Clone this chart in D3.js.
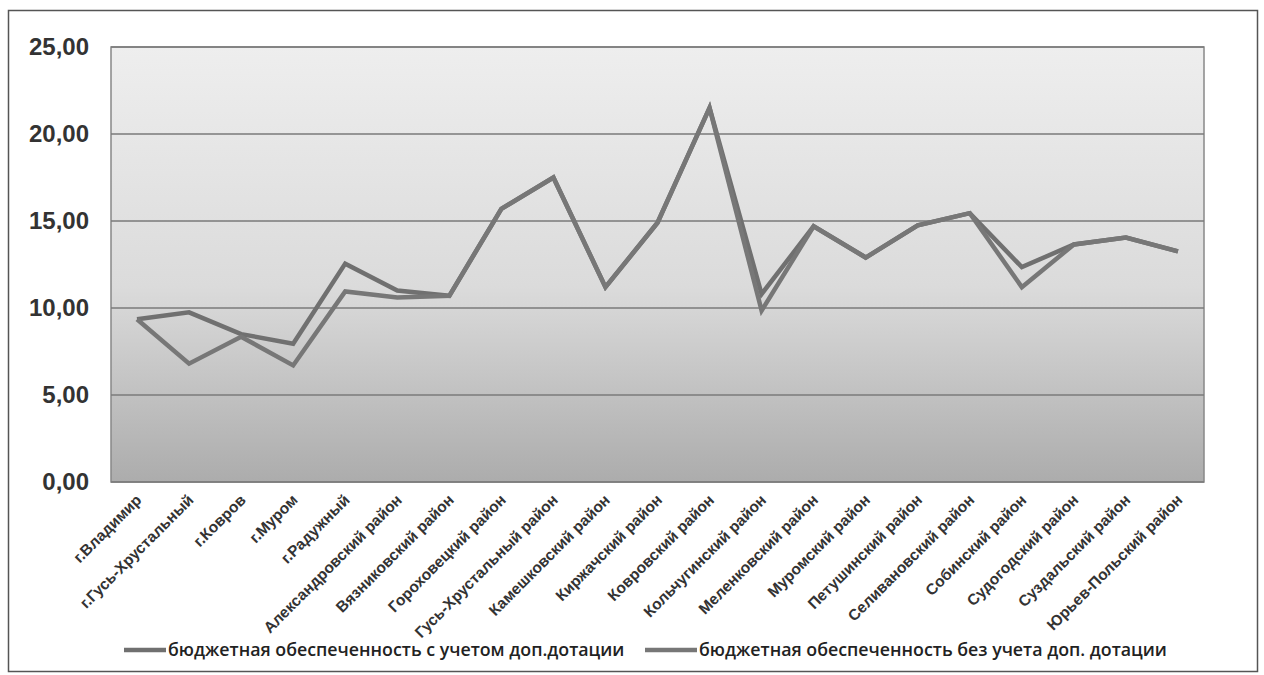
<!DOCTYPE html>
<html>
<head>
<meta charset="utf-8">
<script src="https://cdn.jsdelivr.net/npm/d3@7"></script>
<style>
  body { margin: 0; background: #fff; }
  svg { display: block; font-family: "Open Sans", Lato, sans-serif; }
</style>
</head>
<body>
<div id="chart"></div>
<script>
// categories and values
var categories = ["г.Владимир", "г.Гусь-Хрустальный", "г.Ковров", "г.Муром", "г.Радужный",
  "Александровский район", "Вязниковский район", "Гороховецкий район", "Гусь-Хрустальный район",
  "Камешковский район", "Киржачский район", "Ковровский район", "Кольчугинский район",
  "Меленковский район", "Муромский район", "Петушинский район", "Селивановский район",
  "Собинский район", "Судогодский район", "Суздальский район", "Юрьев-Польский район"];

var withSubsidy = [9.35, 9.75, 8.5, 7.95, 12.55, 11.0, 10.7, 15.7, 17.5, 11.2, 14.9,
  21.5, 10.8, 14.7, 12.9, 14.75, 15.45, 12.35, 13.65, 14.05, 13.25];

var withoutSubsidy = [9.35, 6.8, 8.35, 6.7, 10.95, 10.6, 10.7, 15.7, 17.5, 11.2, 14.9,
  21.5, 9.85, 14.7, 12.9, 14.75, 15.45, 11.2, 13.65, 14.05, 13.25];

var seriesNames = ["бюджетная обеспеченность с учетом доп.дотации",
  "бюджетная обеспеченность без учета доп. дотации"];

var yTicks = [0, 5, 10, 15, 20, 25];

var width = 1264, height = 675;
var plot = { left: 111, right: 1204, top: 47, bottom: 482 };

var svg = d3.select("#chart").append("svg")
    .attr("width", width)
    .attr("height", height);

// outer frame
svg.append("rect")
    .attr("x", 8.5).attr("y", 10.5)
    .attr("width", 1249).attr("height", 661)
    .attr("fill", "#fff")
    .attr("stroke", "#555")
    .attr("stroke-width", 1.5);

// gradient of the plot area
var grad = svg.append("defs").append("linearGradient")
    .attr("id", "bg").attr("x1", 0).attr("y1", 0).attr("x2", 0).attr("y2", 1);
grad.append("stop").attr("offset", "0%").attr("stop-color", "#eeeeee");
grad.append("stop").attr("offset", "55%").attr("stop-color", "#dbdbdb");
grad.append("stop").attr("offset", "100%").attr("stop-color", "#acacac");

var x = d3.scalePoint()
    .domain(categories)
    .range([plot.left, plot.right])
    .padding(0.5);

var y = d3.scaleLinear()
    .domain([0, 25])
    .range([plot.bottom, plot.top]);

svg.append("rect")
    .attr("x", plot.left).attr("y", plot.top)
    .attr("width", plot.right - plot.left).attr("height", plot.bottom - plot.top)
    .attr("fill", "url(#bg)")
    .attr("stroke", "#888")
    .attr("stroke-width", 1.5);

// gridlines
svg.append("g")
  .selectAll("line")
  .data(yTicks)
  .enter().append("line")
    .attr("x1", plot.left).attr("x2", plot.right)
    .attr("y1", function(d){ return y(d); })
    .attr("y2", function(d){ return y(d); })
    .attr("stroke", "#7a7a7a")
    .attr("stroke-width", 1.5);

// y axis labels
var yAxis = svg.append("g")
    .attr("transform", "translate(" + plot.left + ",0)")
    .call(d3.axisLeft(y).tickValues(yTicks).tickSize(0).tickPadding(22)
      .tickFormat(function(d){ return d3.format(".2f")(d).replace(".", ","); }));
yAxis.select(".domain").remove();
yAxis.selectAll("text")
    .attr("fill", "#333")
    .style("font-size", "24px")
    .style("font-weight", "600");

// x axis labels, rotated
var xAxis = svg.append("g")
    .attr("transform", "translate(0," + plot.bottom + ")")
    .call(d3.axisBottom(x).tickSize(0).tickPadding(0));
xAxis.select(".domain").remove();
xAxis.selectAll("text")
    .attr("fill", "#333")
    .style("font-size", "15.5px")
    .style("font-weight", "600")
    .attr("text-anchor", "end")
    .attr("dy", null)
    .attr("y", 0)
    .attr("transform", "translate(5,19) rotate(-45)");

// lines
var line = d3.line()
    .x(function(d, i){ return x(categories[i]); })
    .y(function(d){ return y(d); });

var lineColors = ["#707070", "#777777"];
[withSubsidy, withoutSubsidy].forEach(function(s, k) {
  svg.append("path")
      .datum(s)
      .attr("d", line)
      .attr("fill", "none")
      .attr("stroke", lineColors[k])
      .attr("stroke-width", 4.5)
      .attr("stroke-linejoin", "miter");
});

// legend
var legendX = [124, 645];
var sampleLen = [42, 52];
var legend = svg.append("g").selectAll("g")
    .data(seriesNames)
    .enter().append("g")
    .attr("transform", function(d, i){ return "translate(" + legendX[i] + ",650)"; });
legend.append("line")
    .attr("x1", 0).attr("x2", function(d, i){ return sampleLen[i]; })
    .attr("stroke", function(d, i){ return lineColors[i]; })
    .attr("stroke-width", 4.5);
legend.append("text")
    .attr("x", function(d, i){ return sampleLen[i] + 2; }).attr("y", 6)
    .attr("fill", "#222")
    .style("font-size", "17.8px")
    .style("font-weight", "600")
    .text(function(d){ return d; });
</script>
</body>
</html>
